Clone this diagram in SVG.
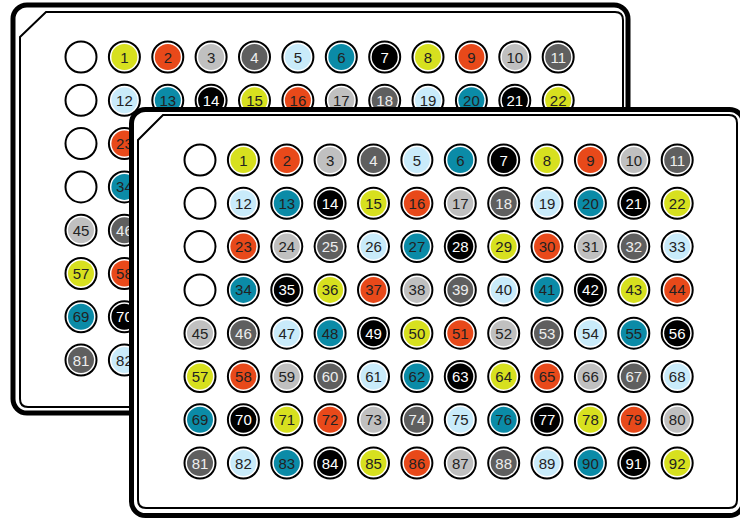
<svg xmlns="http://www.w3.org/2000/svg" width="740" height="519" viewBox="0 0 740 519">
<style>
.plate{fill:#fff;stroke:#000;stroke-width:5}
.rim{fill:none;stroke:#000;stroke-width:2}
.o{fill:#fff;stroke:#000;stroke-width:2}
text{font-family:"Liberation Sans",Arial,sans-serif;font-size:15px;text-anchor:middle;fill:#222}
.c0 .i{fill:#d7e01f}
.c1 .i{fill:#e8491a}
.c2 .i{fill:#c0c0c0}
.c3 .i{fill:#5f5f5f}
.c4 .i{fill:#c9ebfa}
.c5 .i{fill:#0b8ba7}
.c6 .i{fill:#000}
.c3 text{fill:#eeeeee}
.c6 text{fill:#fff}
</style>

<g id="back-plate">
<rect x="13" y="5" width="615" height="408" rx="14" class="plate"/>
<path class="rim" d="M20,37 L46,12 H615 Q623,12 623,20 V399 Q623,407 615,407 H28 Q20,407 20,399 Z"/>
<g transform="translate(0,57)">
<g id="b-e1" transform="translate(81,0)"><circle r="15.5" class="o"/></g>
<g id="b-1" class="c0" transform="translate(124.4,0)"><circle r="15.5" class="o"/><circle r="13" class="i"/><text y="5.5">1</text></g>
<g id="b-2" class="c1" transform="translate(167.8,0)"><circle r="15.5" class="o"/><circle r="13" class="i"/><text y="5.5">2</text></g>
<g id="b-3" class="c2" transform="translate(211.1,0)"><circle r="15.5" class="o"/><circle r="13" class="i"/><text y="5.5">3</text></g>
<g id="b-4" class="c3" transform="translate(254.5,0)"><circle r="15.5" class="o"/><circle r="13" class="i"/><text y="5.5">4</text></g>
<g id="b-5" class="c4" transform="translate(297.9,0)"><circle r="15.5" class="o"/><circle r="13" class="i"/><text y="5.5">5</text></g>
<g id="b-6" class="c5" transform="translate(341.3,0)"><circle r="15.5" class="o"/><circle r="13" class="i"/><text y="5.5">6</text></g>
<g id="b-7" class="c6" transform="translate(384.7,0)"><circle r="15.5" class="o"/><circle r="13" class="i"/><text y="5.5">7</text></g>
<g id="b-8" class="c0" transform="translate(428,0)"><circle r="15.5" class="o"/><circle r="13" class="i"/><text y="5.5">8</text></g>
<g id="b-9" class="c1" transform="translate(471.4,0)"><circle r="15.5" class="o"/><circle r="13" class="i"/><text y="5.5">9</text></g>
<g id="b-10" class="c2" transform="translate(514.8,0)"><circle r="15.5" class="o"/><circle r="13" class="i"/><text y="5.5">10</text></g>
<g id="b-11" class="c3" transform="translate(558.2,0)"><circle r="15.5" class="o"/><circle r="13" class="i"/><text y="5.5">11</text></g>
</g>
<g transform="translate(0,100.3)">
<g id="b-e2" transform="translate(81,0)"><circle r="15.5" class="o"/></g>
<g id="b-12" class="c4" transform="translate(124.4,0)"><circle r="15.5" class="o"/><circle r="13" class="i"/><text y="5.5">12</text></g>
<g id="b-13" class="c5" transform="translate(167.8,0)"><circle r="15.5" class="o"/><circle r="13" class="i"/><text y="5.5">13</text></g>
<g id="b-14" class="c6" transform="translate(211.1,0)"><circle r="15.5" class="o"/><circle r="13" class="i"/><text y="5.5">14</text></g>
<g id="b-15" class="c0" transform="translate(254.5,0)"><circle r="15.5" class="o"/><circle r="13" class="i"/><text y="5.5">15</text></g>
<g id="b-16" class="c1" transform="translate(297.9,0)"><circle r="15.5" class="o"/><circle r="13" class="i"/><text y="5.5">16</text></g>
<g id="b-17" class="c2" transform="translate(341.3,0)"><circle r="15.5" class="o"/><circle r="13" class="i"/><text y="5.5">17</text></g>
<g id="b-18" class="c3" transform="translate(384.7,0)"><circle r="15.5" class="o"/><circle r="13" class="i"/><text y="5.5">18</text></g>
<g id="b-19" class="c4" transform="translate(428,0)"><circle r="15.5" class="o"/><circle r="13" class="i"/><text y="5.5">19</text></g>
<g id="b-20" class="c5" transform="translate(471.4,0)"><circle r="15.5" class="o"/><circle r="13" class="i"/><text y="5.5">20</text></g>
<g id="b-21" class="c6" transform="translate(514.8,0)"><circle r="15.5" class="o"/><circle r="13" class="i"/><text y="5.5">21</text></g>
<g id="b-22" class="c0" transform="translate(558.2,0)"><circle r="15.5" class="o"/><circle r="13" class="i"/><text y="5.5">22</text></g>
</g>
<g id="b-e3" transform="translate(81,143.6)"><circle r="15.5" class="o"/></g>
<g id="b-23" class="c1" transform="translate(124.4,143.6)"><circle r="15.5" class="o"/><circle r="13" class="i"/><text y="5.5">23</text></g>
<g id="b-e4" transform="translate(81,186.9)"><circle r="15.5" class="o"/></g>
<g id="b-34" class="c5" transform="translate(124.4,186.9)"><circle r="15.5" class="o"/><circle r="13" class="i"/><text y="5.5">34</text></g>
<g id="b-45" class="c2" transform="translate(81,230.2)"><circle r="15.5" class="o"/><circle r="13" class="i"/><text y="5.5">45</text></g>
<g id="b-46" class="c3" transform="translate(124.4,230.2)"><circle r="15.5" class="o"/><circle r="13" class="i"/><text y="5.5">46</text></g>
<g id="b-57" class="c0" transform="translate(81,273.5)"><circle r="15.5" class="o"/><circle r="13" class="i"/><text y="5.5">57</text></g>
<g id="b-58" class="c1" transform="translate(124.4,273.5)"><circle r="15.5" class="o"/><circle r="13" class="i"/><text y="5.5">58</text></g>
<g id="b-69" class="c5" transform="translate(81,316.8)"><circle r="15.5" class="o"/><circle r="13" class="i"/><text y="5.5">69</text></g>
<g id="b-70" class="c6" transform="translate(124.4,316.8)"><circle r="15.5" class="o"/><circle r="13" class="i"/><text y="5.5">70</text></g>
<g id="b-81" class="c3" transform="translate(81,360.1)"><circle r="15.5" class="o"/><circle r="13" class="i"/><text y="5.5">81</text></g>
<g id="b-82" class="c4" transform="translate(124.4,360.1)"><circle r="15.5" class="o"/><circle r="13" class="i"/><text y="5.5">82</text></g>
</g>

<g id="front-plate">
<rect x="131.5" y="109.5" width="612" height="406" rx="14" class="plate"/>
<path class="rim" d="M138,140 L163,115 H729 Q737,115 737,123 V500 Q737,508 729,508 H146 Q138,508 138,500 Z"/>
<g transform="translate(0,160)">
<g id="f-e1" transform="translate(200,0)"><circle r="15.5" class="o"/></g>
<g id="f-1" class="c0" transform="translate(243.4,0)"><circle r="15.5" class="o"/><circle r="13" class="i"/><text y="5.5">1</text></g>
<g id="f-2" class="c1" transform="translate(286.8,0)"><circle r="15.5" class="o"/><circle r="13" class="i"/><text y="5.5">2</text></g>
<g id="f-3" class="c2" transform="translate(330.1,0)"><circle r="15.5" class="o"/><circle r="13" class="i"/><text y="5.5">3</text></g>
<g id="f-4" class="c3" transform="translate(373.5,0)"><circle r="15.5" class="o"/><circle r="13" class="i"/><text y="5.5">4</text></g>
<g id="f-5" class="c4" transform="translate(416.9,0)"><circle r="15.5" class="o"/><circle r="13" class="i"/><text y="5.5">5</text></g>
<g id="f-6" class="c5" transform="translate(460.3,0)"><circle r="15.5" class="o"/><circle r="13" class="i"/><text y="5.5">6</text></g>
<g id="f-7" class="c6" transform="translate(503.7,0)"><circle r="15.5" class="o"/><circle r="13" class="i"/><text y="5.5">7</text></g>
<g id="f-8" class="c0" transform="translate(547,0)"><circle r="15.5" class="o"/><circle r="13" class="i"/><text y="5.5">8</text></g>
<g id="f-9" class="c1" transform="translate(590.4,0)"><circle r="15.5" class="o"/><circle r="13" class="i"/><text y="5.5">9</text></g>
<g id="f-10" class="c2" transform="translate(633.8,0)"><circle r="15.5" class="o"/><circle r="13" class="i"/><text y="5.5">10</text></g>
<g id="f-11" class="c3" transform="translate(677.2,0)"><circle r="15.5" class="o"/><circle r="13" class="i"/><text y="5.5">11</text></g>
</g>
<g transform="translate(0,203.3)">
<g id="f-e2" transform="translate(200,0)"><circle r="15.5" class="o"/></g>
<g id="f-12" class="c4" transform="translate(243.4,0)"><circle r="15.5" class="o"/><circle r="13" class="i"/><text y="5.5">12</text></g>
<g id="f-13" class="c5" transform="translate(286.8,0)"><circle r="15.5" class="o"/><circle r="13" class="i"/><text y="5.5">13</text></g>
<g id="f-14" class="c6" transform="translate(330.1,0)"><circle r="15.5" class="o"/><circle r="13" class="i"/><text y="5.5">14</text></g>
<g id="f-15" class="c0" transform="translate(373.5,0)"><circle r="15.5" class="o"/><circle r="13" class="i"/><text y="5.5">15</text></g>
<g id="f-16" class="c1" transform="translate(416.9,0)"><circle r="15.5" class="o"/><circle r="13" class="i"/><text y="5.5">16</text></g>
<g id="f-17" class="c2" transform="translate(460.3,0)"><circle r="15.5" class="o"/><circle r="13" class="i"/><text y="5.5">17</text></g>
<g id="f-18" class="c3" transform="translate(503.7,0)"><circle r="15.5" class="o"/><circle r="13" class="i"/><text y="5.5">18</text></g>
<g id="f-19" class="c4" transform="translate(547,0)"><circle r="15.5" class="o"/><circle r="13" class="i"/><text y="5.5">19</text></g>
<g id="f-20" class="c5" transform="translate(590.4,0)"><circle r="15.5" class="o"/><circle r="13" class="i"/><text y="5.5">20</text></g>
<g id="f-21" class="c6" transform="translate(633.8,0)"><circle r="15.5" class="o"/><circle r="13" class="i"/><text y="5.5">21</text></g>
<g id="f-22" class="c0" transform="translate(677.2,0)"><circle r="15.5" class="o"/><circle r="13" class="i"/><text y="5.5">22</text></g>
</g>
<g transform="translate(0,246.6)">
<g id="f-e3" transform="translate(200,0)"><circle r="15.5" class="o"/></g>
<g id="f-23" class="c1" transform="translate(243.4,0)"><circle r="15.5" class="o"/><circle r="13" class="i"/><text y="5.5">23</text></g>
<g id="f-24" class="c2" transform="translate(286.8,0)"><circle r="15.5" class="o"/><circle r="13" class="i"/><text y="5.5">24</text></g>
<g id="f-25" class="c3" transform="translate(330.1,0)"><circle r="15.5" class="o"/><circle r="13" class="i"/><text y="5.5">25</text></g>
<g id="f-26" class="c4" transform="translate(373.5,0)"><circle r="15.5" class="o"/><circle r="13" class="i"/><text y="5.5">26</text></g>
<g id="f-27" class="c5" transform="translate(416.9,0)"><circle r="15.5" class="o"/><circle r="13" class="i"/><text y="5.5">27</text></g>
<g id="f-28" class="c6" transform="translate(460.3,0)"><circle r="15.5" class="o"/><circle r="13" class="i"/><text y="5.5">28</text></g>
<g id="f-29" class="c0" transform="translate(503.7,0)"><circle r="15.5" class="o"/><circle r="13" class="i"/><text y="5.5">29</text></g>
<g id="f-30" class="c1" transform="translate(547,0)"><circle r="15.5" class="o"/><circle r="13" class="i"/><text y="5.5">30</text></g>
<g id="f-31" class="c2" transform="translate(590.4,0)"><circle r="15.5" class="o"/><circle r="13" class="i"/><text y="5.5">31</text></g>
<g id="f-32" class="c3" transform="translate(633.8,0)"><circle r="15.5" class="o"/><circle r="13" class="i"/><text y="5.5">32</text></g>
<g id="f-33" class="c4" transform="translate(677.2,0)"><circle r="15.5" class="o"/><circle r="13" class="i"/><text y="5.5">33</text></g>
</g>
<g transform="translate(0,289.9)">
<g id="f-e4" transform="translate(200,0)"><circle r="15.5" class="o"/></g>
<g id="f-34" class="c5" transform="translate(243.4,0)"><circle r="15.5" class="o"/><circle r="13" class="i"/><text y="5.5">34</text></g>
<g id="f-35" class="c6" transform="translate(286.8,0)"><circle r="15.5" class="o"/><circle r="13" class="i"/><text y="5.5">35</text></g>
<g id="f-36" class="c0" transform="translate(330.1,0)"><circle r="15.5" class="o"/><circle r="13" class="i"/><text y="5.5">36</text></g>
<g id="f-37" class="c1" transform="translate(373.5,0)"><circle r="15.5" class="o"/><circle r="13" class="i"/><text y="5.5">37</text></g>
<g id="f-38" class="c2" transform="translate(416.9,0)"><circle r="15.5" class="o"/><circle r="13" class="i"/><text y="5.5">38</text></g>
<g id="f-39" class="c3" transform="translate(460.3,0)"><circle r="15.5" class="o"/><circle r="13" class="i"/><text y="5.5">39</text></g>
<g id="f-40" class="c4" transform="translate(503.7,0)"><circle r="15.5" class="o"/><circle r="13" class="i"/><text y="5.5">40</text></g>
<g id="f-41" class="c5" transform="translate(547,0)"><circle r="15.5" class="o"/><circle r="13" class="i"/><text y="5.5">41</text></g>
<g id="f-42" class="c6" transform="translate(590.4,0)"><circle r="15.5" class="o"/><circle r="13" class="i"/><text y="5.5">42</text></g>
<g id="f-43" class="c0" transform="translate(633.8,0)"><circle r="15.5" class="o"/><circle r="13" class="i"/><text y="5.5">43</text></g>
<g id="f-44" class="c1" transform="translate(677.2,0)"><circle r="15.5" class="o"/><circle r="13" class="i"/><text y="5.5">44</text></g>
</g>
<g transform="translate(0,333.2)">
<g id="f-45" class="c2" transform="translate(200,0)"><circle r="15.5" class="o"/><circle r="13" class="i"/><text y="5.5">45</text></g>
<g id="f-46" class="c3" transform="translate(243.4,0)"><circle r="15.5" class="o"/><circle r="13" class="i"/><text y="5.5">46</text></g>
<g id="f-47" class="c4" transform="translate(286.8,0)"><circle r="15.5" class="o"/><circle r="13" class="i"/><text y="5.5">47</text></g>
<g id="f-48" class="c5" transform="translate(330.1,0)"><circle r="15.5" class="o"/><circle r="13" class="i"/><text y="5.5">48</text></g>
<g id="f-49" class="c6" transform="translate(373.5,0)"><circle r="15.5" class="o"/><circle r="13" class="i"/><text y="5.5">49</text></g>
<g id="f-50" class="c0" transform="translate(416.9,0)"><circle r="15.5" class="o"/><circle r="13" class="i"/><text y="5.5">50</text></g>
<g id="f-51" class="c1" transform="translate(460.3,0)"><circle r="15.5" class="o"/><circle r="13" class="i"/><text y="5.5">51</text></g>
<g id="f-52" class="c2" transform="translate(503.7,0)"><circle r="15.5" class="o"/><circle r="13" class="i"/><text y="5.5">52</text></g>
<g id="f-53" class="c3" transform="translate(547,0)"><circle r="15.5" class="o"/><circle r="13" class="i"/><text y="5.5">53</text></g>
<g id="f-54" class="c4" transform="translate(590.4,0)"><circle r="15.5" class="o"/><circle r="13" class="i"/><text y="5.5">54</text></g>
<g id="f-55" class="c5" transform="translate(633.8,0)"><circle r="15.5" class="o"/><circle r="13" class="i"/><text y="5.5">55</text></g>
<g id="f-56" class="c6" transform="translate(677.2,0)"><circle r="15.5" class="o"/><circle r="13" class="i"/><text y="5.5">56</text></g>
</g>
<g transform="translate(0,376.5)">
<g id="f-57" class="c0" transform="translate(200,0)"><circle r="15.5" class="o"/><circle r="13" class="i"/><text y="5.5">57</text></g>
<g id="f-58" class="c1" transform="translate(243.4,0)"><circle r="15.5" class="o"/><circle r="13" class="i"/><text y="5.5">58</text></g>
<g id="f-59" class="c2" transform="translate(286.8,0)"><circle r="15.5" class="o"/><circle r="13" class="i"/><text y="5.5">59</text></g>
<g id="f-60" class="c3" transform="translate(330.1,0)"><circle r="15.5" class="o"/><circle r="13" class="i"/><text y="5.5">60</text></g>
<g id="f-61" class="c4" transform="translate(373.5,0)"><circle r="15.5" class="o"/><circle r="13" class="i"/><text y="5.5">61</text></g>
<g id="f-62" class="c5" transform="translate(416.9,0)"><circle r="15.5" class="o"/><circle r="13" class="i"/><text y="5.5">62</text></g>
<g id="f-63" class="c6" transform="translate(460.3,0)"><circle r="15.5" class="o"/><circle r="13" class="i"/><text y="5.5">63</text></g>
<g id="f-64" class="c0" transform="translate(503.7,0)"><circle r="15.5" class="o"/><circle r="13" class="i"/><text y="5.5">64</text></g>
<g id="f-65" class="c1" transform="translate(547,0)"><circle r="15.5" class="o"/><circle r="13" class="i"/><text y="5.5">65</text></g>
<g id="f-66" class="c2" transform="translate(590.4,0)"><circle r="15.5" class="o"/><circle r="13" class="i"/><text y="5.5">66</text></g>
<g id="f-67" class="c3" transform="translate(633.8,0)"><circle r="15.5" class="o"/><circle r="13" class="i"/><text y="5.5">67</text></g>
<g id="f-68" class="c4" transform="translate(677.2,0)"><circle r="15.5" class="o"/><circle r="13" class="i"/><text y="5.5">68</text></g>
</g>
<g transform="translate(0,419.8)">
<g id="f-69" class="c5" transform="translate(200,0)"><circle r="15.5" class="o"/><circle r="13" class="i"/><text y="5.5">69</text></g>
<g id="f-70" class="c6" transform="translate(243.4,0)"><circle r="15.5" class="o"/><circle r="13" class="i"/><text y="5.5">70</text></g>
<g id="f-71" class="c0" transform="translate(286.8,0)"><circle r="15.5" class="o"/><circle r="13" class="i"/><text y="5.5">71</text></g>
<g id="f-72" class="c1" transform="translate(330.1,0)"><circle r="15.5" class="o"/><circle r="13" class="i"/><text y="5.5">72</text></g>
<g id="f-73" class="c2" transform="translate(373.5,0)"><circle r="15.5" class="o"/><circle r="13" class="i"/><text y="5.5">73</text></g>
<g id="f-74" class="c3" transform="translate(416.9,0)"><circle r="15.5" class="o"/><circle r="13" class="i"/><text y="5.5">74</text></g>
<g id="f-75" class="c4" transform="translate(460.3,0)"><circle r="15.5" class="o"/><circle r="13" class="i"/><text y="5.5">75</text></g>
<g id="f-76" class="c5" transform="translate(503.7,0)"><circle r="15.5" class="o"/><circle r="13" class="i"/><text y="5.5">76</text></g>
<g id="f-77" class="c6" transform="translate(547,0)"><circle r="15.5" class="o"/><circle r="13" class="i"/><text y="5.5">77</text></g>
<g id="f-78" class="c0" transform="translate(590.4,0)"><circle r="15.5" class="o"/><circle r="13" class="i"/><text y="5.5">78</text></g>
<g id="f-79" class="c1" transform="translate(633.8,0)"><circle r="15.5" class="o"/><circle r="13" class="i"/><text y="5.5">79</text></g>
<g id="f-80" class="c2" transform="translate(677.2,0)"><circle r="15.5" class="o"/><circle r="13" class="i"/><text y="5.5">80</text></g>
</g>
<g transform="translate(0,463.1)">
<g id="f-81" class="c3" transform="translate(200,0)"><circle r="15.5" class="o"/><circle r="13" class="i"/><text y="5.5">81</text></g>
<g id="f-82" class="c4" transform="translate(243.4,0)"><circle r="15.5" class="o"/><circle r="13" class="i"/><text y="5.5">82</text></g>
<g id="f-83" class="c5" transform="translate(286.8,0)"><circle r="15.5" class="o"/><circle r="13" class="i"/><text y="5.5">83</text></g>
<g id="f-84" class="c6" transform="translate(330.1,0)"><circle r="15.5" class="o"/><circle r="13" class="i"/><text y="5.5">84</text></g>
<g id="f-85" class="c0" transform="translate(373.5,0)"><circle r="15.5" class="o"/><circle r="13" class="i"/><text y="5.5">85</text></g>
<g id="f-86" class="c1" transform="translate(416.9,0)"><circle r="15.5" class="o"/><circle r="13" class="i"/><text y="5.5">86</text></g>
<g id="f-87" class="c2" transform="translate(460.3,0)"><circle r="15.5" class="o"/><circle r="13" class="i"/><text y="5.5">87</text></g>
<g id="f-88" class="c3" transform="translate(503.7,0)"><circle r="15.5" class="o"/><circle r="13" class="i"/><text y="5.5">88</text></g>
<g id="f-89" class="c4" transform="translate(547,0)"><circle r="15.5" class="o"/><circle r="13" class="i"/><text y="5.5">89</text></g>
<g id="f-90" class="c5" transform="translate(590.4,0)"><circle r="15.5" class="o"/><circle r="13" class="i"/><text y="5.5">90</text></g>
<g id="f-91" class="c6" transform="translate(633.8,0)"><circle r="15.5" class="o"/><circle r="13" class="i"/><text y="5.5">91</text></g>
<g id="f-92" class="c0" transform="translate(677.2,0)"><circle r="15.5" class="o"/><circle r="13" class="i"/><text y="5.5">92</text></g>
</g>
</g>
<g id="connectors"/>
</svg>
